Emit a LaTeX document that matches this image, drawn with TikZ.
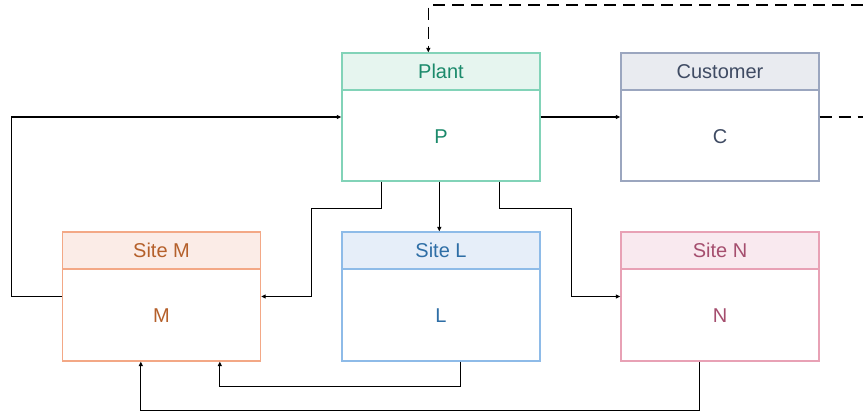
\documentclass[tikz,border=0pt]{standalone}
\usepackage{fontspec}
\setmainfont{Liberation Sans}
\usetikzlibrary{calc,arrows.meta}

\definecolor{plantS}{HTML}{82D3B8}\definecolor{plantF}{HTML}{E6F5EF}\definecolor{plantT}{HTML}{1B8A6B}
\definecolor{custS}{HTML}{9BA6BF}\definecolor{custF}{HTML}{E9EBF0}\definecolor{custT}{HTML}{3F4B63}
\definecolor{mS}{HTML}{F3A886}\definecolor{mF}{HTML}{FBECE7}\definecolor{mT}{HTML}{B5602B}
\definecolor{lS}{HTML}{8EBBE8}\definecolor{lF}{HTML}{E6EEF9}\definecolor{lT}{HTML}{2E6EA6}
\definecolor{nS}{HTML}{E8A1B5}\definecolor{nF}{HTML}{F9E9EF}\definecolor{nT}{HTML}{A54E6E}

\tikzset{
  unitbox/.style={draw=#1, line width=1.3pt, fill=white, rectangle, minimum width=198pt, inner sep=0pt},
  unithead/.style 2 args={draw=#1, fill=#2, line width=1.3pt, rectangle, minimum width=198pt,
      minimum height=37pt, inner sep=0pt, anchor=north},
  lbl/.style={font=\fontsize{20}{23}\selectfont, inner sep=0pt},
  conn/.style={line width=1.2pt, -{Triangle[length=4.5pt,width=4pt]}},
  dashconn/.style={conn, dash pattern=on 12pt off 7pt},
}

\begin{document}
\begin{tikzpicture}[x=1pt, y=-1pt]
\useasboundingbox (0,0) rectangle (863,419);

% boxes: outer frame, coloured header, body label
\node[unitbox=plantS, minimum height=128pt] (plant) at (441,117) {};
\node[unithead={plantS}{plantF}, text=plantT, lbl] (plantH) at (plant.north) {Plant};
\node[lbl, text=plantT] (plantL) at ($(plant.south)+(0,-45.5)$) {P};

\node[unitbox=custS, minimum height=128pt] (cust) at (720,117) {};
\node[unithead={custS}{custF}, text=custT, lbl] (custH) at (cust.north) {Customer};
\node[lbl, text=custT] (custL) at ($(cust.south)+(0,-45.5)$) {C};

\node[unitbox=mS, minimum height=129pt] (siteM) at (161.5,296.5) {};
\node[unithead={mS}{mF}, text=mT, lbl] (siteMH) at (siteM.north) {Site M};
\node[lbl, text=mT] (siteML) at ($(siteM.south)+(0,-46.5)$) {M};

\node[unitbox=lS, minimum height=129pt] (siteL) at (441,296.5) {};
\node[unithead={lS}{lF}, text=lT, lbl] (siteLH) at (siteL.north) {Site L};
\node[lbl, text=lT] (siteLL) at ($(siteL.south)+(0,-46.5)$) {L};

\node[unitbox=nS, minimum height=129pt] (siteN) at (720,296.5) {};
\node[unithead={nS}{nF}, text=nT, lbl] (siteNH) at (siteN.north) {Site N};
\node[lbl, text=nT] (siteNL) at ($(siteN.south)+(0,-46.5)$) {N};

% connectors
\draw[conn] (plant.east) -- (cust.west);
\draw[dashconn] (cust.east) -- ++(70,0) -- ++(0,-112) -| ($(plant.north west)+(87,0)$);
\draw[conn] (siteM.west) -- ++(-50,0) |- (plant.west);
\draw[conn] ($(plant.south west)+(40,0)$) -- ++(0,27) -| ([xshift=50pt]siteM.east) -- (siteM.east);
\draw[conn] ($(plant.south west)+(98,0)$) -- ($(siteL.north west)+(98,0)$);
\draw[conn] ($(plant.south west)+(158,0)$) -- ++(0,27) -| ([xshift=-49pt]siteN.west) -- (siteN.west);
\draw[conn] ($(siteL.south west)+(119,0)$) -- ++(0,25) -| ($(siteM.south west)+(158,0)$);
\draw[conn] ($(siteN.south west)+(79,0)$) -- ++(0,49) -| ($(siteM.south west)+(79,0)$);
\end{tikzpicture}
\end{document}
